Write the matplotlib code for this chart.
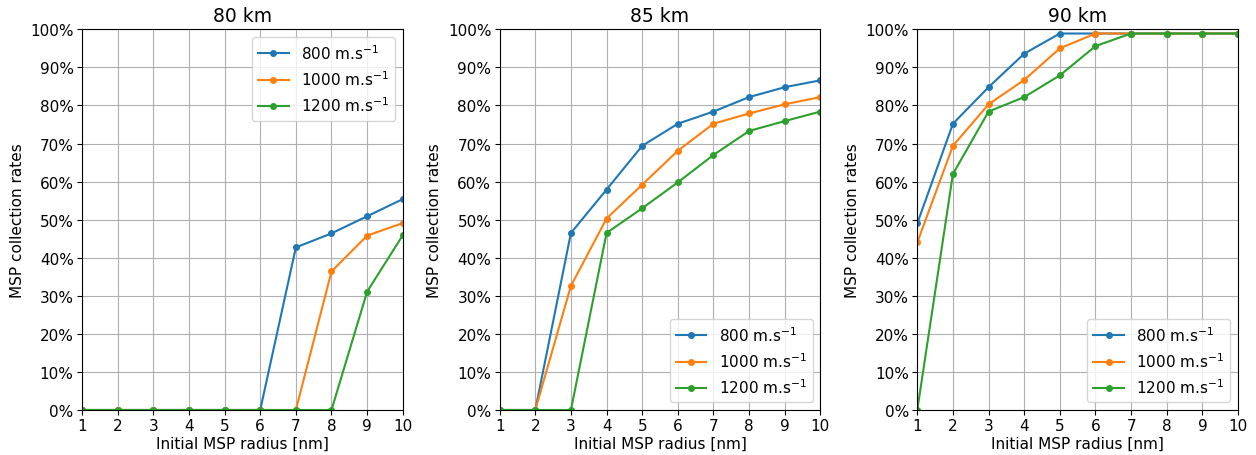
import matplotlib
matplotlib.use("Agg")
import matplotlib.pyplot as plt
from matplotlib.ticker import PercentFormatter

radius = [1, 2, 3, 4, 5, 6, 7, 8, 9, 10]
speeds = ["800 m.s$^{-1}$", "1000 m.s$^{-1}$", "1200 m.s$^{-1}$"]
titles = ["80 km", "85 km", "90 km"]

km80_800 = [0, 0, 0, 0, 0, 0, 42.7, 46.4, 50.9, 55.4]
km80_1000 = [0, 0, 0, 0, 0, 0, 0, 36.4, 45.8, 49.1]
km80_1200 = [0, 0, 0, 0, 0, 0, 0, 0, 31.1, 45.9]

km85_800 = [0, 0, 46.5, 57.9, 69.4, 75.2, 78.4, 82.2, 84.8, 86.6]
km85_1000 = [0, 0, 32.6, 50.3, 59.2, 68.1, 75.2, 77.9, 80.3, 82.2]
km85_1200 = [0, 0, 0, 46.5, 53.0, 59.8, 67.0, 73.3, 75.9, 78.4]

km90_800 = [49.0, 75.2, 84.8, 93.6, 98.9, 98.9, 98.9, 98.9, 98.9, 98.9]
km90_1000 = [44.0, 69.4, 80.3, 86.7, 95.0, 98.9, 98.9, 98.9, 98.9, 98.9]
km90_1200 = [0, 62.0, 78.4, 82.2, 87.9, 95.6, 98.9, 98.9, 98.9, 98.9]

panels = [
    (km80_800, km80_1000, km80_1200),
    (km85_800, km85_1000, km85_1200),
    (km90_800, km90_1000, km90_1200),
]
legend_locs = ["upper right", "lower right", "lower right"]

plt.rcParams['font.family'] = ['DejaVu Sans']
fig, axes = plt.subplots(1, 3, figsize=(12.56, 4.56), dpi=100)
fig.subplots_adjust(left=0.0653, right=0.9857, top=0.9335, bottom=0.0987, wspace=0.302)

for ax, series, title, loc in zip(axes, panels, titles, legend_locs):
    for vals, lab in zip(series, speeds):
        ax.plot(radius, vals, marker='o', markersize=4, linewidth=1.5, label=lab)
    ax.set_xlim(1, 10)
    ax.set_ylim(0, 100)
    ax.set_xticks(radius)
    ax.set_yticks(range(0, 101, 10))
    ax.yaxis.set_major_formatter(PercentFormatter(decimals=0))
    ax.grid(True)
    ax.set_title(title, fontsize=13.5)
    ax.set_xlabel("Initial MSP radius [nm]", fontsize=11, labelpad=2)
    ax.set_ylabel("MSP collection rates", fontsize=11)
    ax.tick_params(labelsize=11, length=3.5, pad=2.5)
    ax.legend(loc=loc, fontsize=11)

fig.savefig("out.png", dpi=100)
